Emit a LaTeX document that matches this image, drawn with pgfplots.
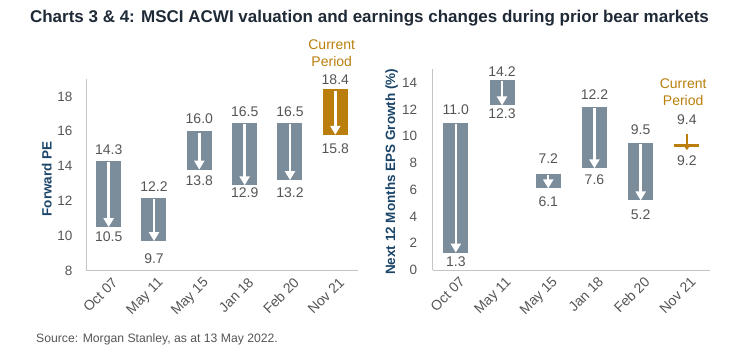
\documentclass[border=0pt]{standalone}
\usepackage{pgfplots}
\usepackage{pgfplotstable}
\pgfplotsset{compat=1.18}
\usepackage{fontspec}
\setmainfont{Liberation Sans}
\usetikzlibrary{arrows.meta}
\definecolor{barcol}{HTML}{7B8C9A}
\definecolor{gold}{HTML}{B97E0C}
\definecolor{titlecol}{HTML}{1F2A37}
\definecolor{ylabcol}{HTML}{1B4568}
\definecolor{tickcol}{HTML}{555555}
\definecolor{axcol}{HTML}{C4C4C4}

% Forward PE: x, start (hi), end (lo), label y positions for hi and lo
\pgfplotstableread{
x hi lo hy ly
0 14.3 10.5 14.94 9.95
1 12.2 9.7 12.83 8.67
2 16.0 13.8 16.70 13.17
3 16.5 12.9 17.14 12.48
4 16.5 13.2 17.14 12.50
}\peHist
\pgfplotstableread{
x hi lo hy ly
5 18.4 15.8 18.96 15.03
}\peCur
% EPS growth
\pgfplotstableread{
x hi lo hy ly
0 11.0 1.3 11.96 0.62
1 14.2 12.3 14.82 11.71
2 7.2 6.1 8.35 5.10
3 12.2 7.6 13.08 6.73
4 9.5 5.2 10.46 4.11
}\epsHist
\pgfplotstableread{
x hi lo hy ly
5 9.4 9.2 11.21 8.17
}\epsCur
\pgfplotstableread{
x top bot
5 10.15 8.95
}\epsMark

\pgfplotsset{
  chartstyle/.style={
    scale only axis,
    anchor=south west,
    xmin=-0.5, xmax=5.5,
    axis x line*=bottom, axis y line*=left,
    axis line style={axcol, line width=1pt, -},
    major tick length=0pt,
    xtick={0,1,2,3,4,5},
    xticklabels={Oct 07,May 11,May 15,Jan 18,Feb 20,Nov 21},
    tick label style={font=\fontsize{13.5}{15}\selectfont, text=tickcol},
    /pgf/number format/assume math mode=true,
    xticklabel style={rotate=45, anchor=north east, inner sep=1pt, xshift=-1pt, yshift=-5pt, font=\fontsize{14}{16}\selectfont},
    yticklabel style={xshift=-10pt},
    every axis y label/.style={rotate=90, anchor=center, font=\bfseries\fontsize{13.5}{15}\selectfont, text=ylabcol},
    clip=false,
  },
  barq/.style={line width=25pt, quiver={u=0, v=\thisrow{lo}-\thisrow{hi}}},
  arrq/.style={white, line width=2.4pt, -{Triangle[width=10pt,length=9pt]},
    quiver={u=0, v=\thisrow{lo}-\thisrow{hi}+0.08}},
  lab/.style={draw=none, mark=none, nodes near coords, point meta=explicit symbolic,
    every node near coord/.append style={anchor=center, font=\fontsize{14}{16}\selectfont, text=#1}},
}

\begin{document}
\begin{tikzpicture}
\useasboundingbox (0,0) rectangle (740pt,362pt);
\node[font=\bfseries\fontsize{17}{19}\selectfont, text=titlecol] at (369.5pt,344pt)
  {Charts 3 \& 4: MSCI ACWI valuation and earnings changes during prior bear markets};
\node[anchor=west, font=\fontsize{12.2}{14}\selectfont, text=tickcol, inner sep=0pt] at (36pt,23pt)
  {Source: Morgan Stanley, as at 13 May 2022.};

\begin{axis}[chartstyle,
  at={(86pt,91.3pt)}, width=272pt, height=191.7pt,
  ymin=8, ymax=19, ytick={8,10,12,14,16,18},
  ylabel={Forward PE},
  ylabel style={at={(axis description cs:-0.1445,0.479)}},
]
\addplot[barcol, barq] table[x=x, y=hi] {\peHist};
\addplot[gold, barq] table[x=x, y=hi] {\peCur};
\addplot[arrq] table[x=x, y expr=\thisrow{hi}-0.08] {\peHist};
\addplot[arrq] table[x=x, y expr=\thisrow{hi}-0.08] {\peCur};
\addplot[lab=tickcol] table[x=x, y=hy, meta=hi] {\peHist};
\addplot[lab=tickcol] table[x=x, y=ly, meta=lo] {\peHist};
\addplot[lab=tickcol] table[x=x, y=hy, meta=hi] {\peCur};
\addplot[lab=tickcol] table[x=x, y=ly, meta=lo] {\peCur};
\node[align=center, font=\fontsize{14}{16.7}\selectfont, text=gold] at (axis cs:4.92,20.49) {Current\\Period};
\end{axis}

\begin{axis}[chartstyle,
  at={(432.7pt,92pt)}, width=277.3pt, height=200.7pt,
  ymin=0, ymax=15, ytick={0,2,4,6,8,10,12,14},
  ylabel={Next 12 Months EPS Growth (\%)},
  ylabel style={at={(axis description cs:-0.148,0.49)}},
  yticklabel style={xshift=-2pt},
]
\addplot[barcol, barq] table[x=x, y=hi] {\epsHist};
\addplot[gold, barq] table[x=x, y=hi] {\epsCur};
\addplot[arrq] table[x=x, y expr=\thisrow{hi}-0.08] {\epsHist};
\addplot[gold, line width=2pt, -{Triangle[width=8pt,length=6pt]}, quiver={u=0, v=\thisrow{bot}-\thisrow{top}}] table[x=x, y=top] {\epsMark};
\addplot[lab=tickcol] table[x=x, y=hy, meta=hi] {\epsHist};
\addplot[lab=tickcol] table[x=x, y=ly, meta=lo] {\epsHist};
\addplot[lab=tickcol] table[x=x, y=hy, meta=hi] {\epsCur};
\addplot[lab=tickcol] table[x=x, y=ly, meta=lo] {\epsCur};
\node[align=center, font=\fontsize{14}{16.7}\selectfont, text=gold] at (axis cs:4.92,13.31) {Current\\Period};
\end{axis}
\end{tikzpicture}
\end{document}
